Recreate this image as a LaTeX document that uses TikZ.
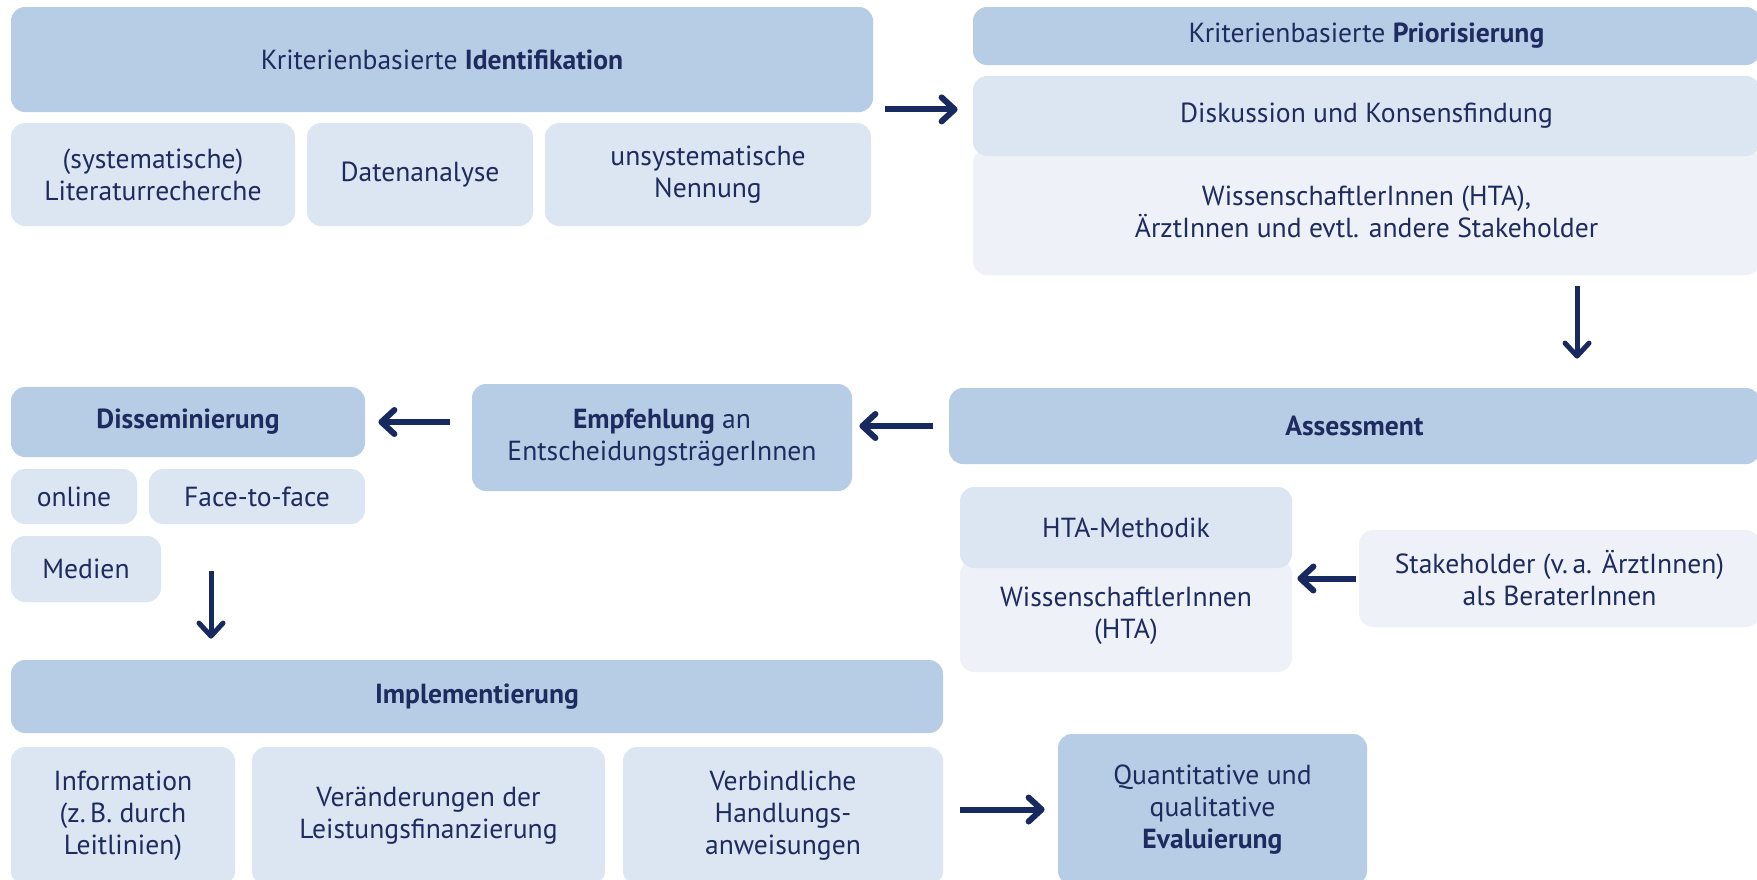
\documentclass[tikz,border=0pt]{standalone}
\usepackage{fontspec}
\setmainfont{PT Sans}
\usetikzlibrary{arrows.meta}
\definecolor{navy}{HTML}{1E2B5E}
\definecolor{arrowblue}{HTML}{17295E}
\definecolor{midblue}{HTML}{B7CCE5}
\definecolor{lightblue}{HTML}{DCE6F2}
\definecolor{paleblue}{HTML}{EEF2F8}
\tikzset{
  box/.style={rounded corners=7pt, inner sep=2pt, align=center, text=navy},
  headbox/.style={box, fill=midblue},
  subbox/.style={box, fill=lightblue},
  palebox/.style={box, fill=paleblue},
  link/.style={arrowblue, line width=3pt, -{Straight Barb[length=6.5pt,width=12pt,round]}},
  thinlink/.style={link, line width=2.5pt}
}
\begin{document}
\begin{tikzpicture}[x=0.5pt, y=-0.5pt, every node/.style={font=\fontsize{13.8}{16}\selectfont}]
\useasboundingbox[fill=white] (0,0) rectangle (1757,879);
% identification
\node[headbox, minimum width=431pt, minimum height=52.5pt] (ident) at (442,59.5) {Kriterienbasierte \textbf{Identifikation}};
\node[subbox, minimum width=142pt, minimum height=51.5pt] (lit) at (153,174.5) {(systematische)\\Literaturrecherche};
\node[subbox, minimum width=113pt, minimum height=51.5pt] (daten) at (420,174.5) {Datenanalyse};
\node[subbox, minimum width=163pt, minimum height=51.5pt] (unsys) at (708,174.5) {unsystematische\\Nennung};
% prioritisation
\node[headbox, minimum width=393.5pt, minimum height=29pt] (prior) at (1366.5,36) {Kriterienbasierte \textbf{Priorisierung}};
\node[palebox, minimum width=393.5pt, minimum height=63pt] (wiss) at (1366.5,212) {WissenschaftlerInnen (HTA),\\ÄrztInnen und evtl. andere Stakeholder};
\node[subbox, minimum width=393.5pt, minimum height=40pt] (disk) at (1366.5,116) {Diskussion und Konsensfindung};
% assessment
\node[headbox, minimum width=405.5pt, minimum height=38pt] (assess) at (1354.5,426) {\textbf{Assessment}};
\node[palebox, minimum width=166pt, minimum height=56pt] (htapale) at (1126,616) {WissenschaftlerInnen\\(HTA)};
\node[subbox, minimum width=166pt, minimum height=40.5pt] (htameth) at (1126,527.5) {HTA-Methodik};
\node[palebox, minimum width=200.5pt, minimum height=48.5pt] (stake) at (1559.5,578.5) {Stakeholder (v.\,a. ÄrztInnen)\\als BeraterInnen};
% recommendation and dissemination
\node[headbox, minimum width=190pt, minimum height=53.5pt] (empf) at (662,437.5) {\textbf{Empfehlung} an\\EntscheidungsträgerInnen};
\node[headbox, minimum width=177pt, minimum height=35pt] (diss) at (188,422) {\textbf{Disseminierung}};
\node[subbox, minimum width=63pt, minimum height=27.5pt] (online) at (74,496.5) {online};
\node[subbox, minimum width=108pt, minimum height=27.5pt] (face) at (257,496.5) {Face-to-face};
\node[subbox, minimum width=75pt, minimum height=33pt] (medien) at (86,569) {Medien};
\coordinate (dissout) at (211,571);
% implementation
\node[headbox, minimum width=466pt, minimum height=36.5pt] (impl) at (477,696.5) {\textbf{Implementierung}};
\node[subbox, minimum width=112pt, minimum height=69pt] (info) at (123,816) {Information\\(z.\,B. durch\\Leitlinien)};
\node[subbox, minimum width=176.5pt, minimum height=69pt] (veraend) at (428.5,816) {Veränderungen der\\Leistungsfinanzierung};
\node[subbox, minimum width=160pt, minimum height=69pt] (verb) at (783,816) {Verbindliche\\Handlungs-\\anweisungen};
\node[headbox, minimum width=154.5pt, minimum height=75.5pt] (eval) at (1212.5,809.5) {Quantitative und\\qualitative\\\textbf{Evaluierung}};
% flow
\draw[link] ([xshift=6pt,yshift=1.5pt]ident.south east) -- ([xshift=-7.5pt,yshift=1.5pt]ident.south east -| disk.west);
\draw[thinlink, shorten <=5.5pt, shorten >=14.5pt] ([xshift=105.25pt]wiss.south) -- ([xshift=105.25pt]wiss.south |- assess.north);
\draw[link, shorten <=8pt, shorten >=3.5pt] (assess.west) -- (assess.west -| empf.east);
\draw[link, shorten <=11pt, shorten >=6.5pt] (diss.east -| empf.west) -- (diss.east);
\draw[thinlink, shorten >=10.5pt] (dissout) -- (dissout |- impl.north);
\draw[link, shorten <=1.5pt, shorten >=2.5pt] (stake.west) -- (stake.west -| htapale.east);
\draw[link, shorten <=8.5pt, shorten >=6.5pt] (eval.west -| verb.east) -- (eval.west);
\end{tikzpicture}
\end{document}
